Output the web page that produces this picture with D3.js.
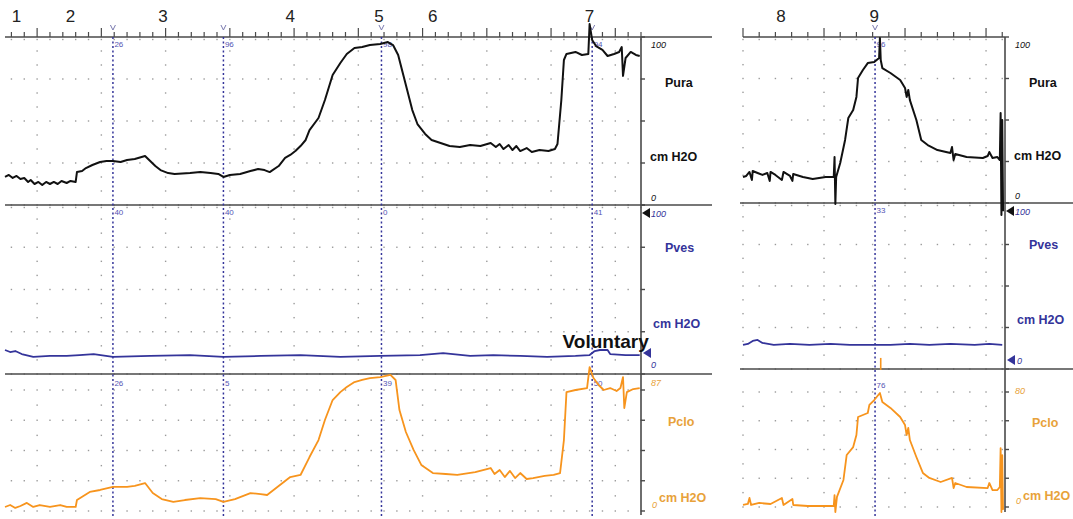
<!DOCTYPE html>
<html>
<head>
<meta charset="utf-8">
<script src="https://cdn.jsdelivr.net/npm/d3@7"></script>
<style>
  html, body { margin: 0; padding: 0; background: #fff; }
  svg { display: block; font-family: Arial, "Liberation Sans", sans-serif; }
</style>
</head>
<body>
<svg id="chart" width="1073" height="519"></svg>
<script>
// Urodynamic trace: Pura / Pves / Pclo, two recording windows

//### DATA ###
//>>> event numbers along the top (time in s)
const eventLabelsLeft = ['1', '2', '3', '4', '5', '6', '7'];
const eventTimesLeft = [-1.6, 2.6, 9.8, 19.7, 26.6, 30.8, 43.0];
const eventLabelsRight = ['8', '9'];
const eventTimesRight = [2.35, 8.1];

//>>> cursor lines (dotted blue) and their read-outs
const markerTimesLeft = [5.9, 14.5, 26.8, 43.2];
const markerTimesRight = [8.15];
const puraReadLeft = ['26', '96', '98', '94'];
const pvesReadLeft = ['40', '40', '0', '41'];
const pcloReadLeft = ['26', '5', '39', '50'];
const puraReadRight = ['96'];
const pvesReadRight = ['33'];
const pcloReadRight = ['76'];

//>>> left window, [time s, cmH2O]
const puraLeft = [
  [-2.5, 16.7], [-2.2, 17.9], [-1.9, 16.1], [-1.6, 17.3], [-1.3, 15.5], [-1.0, 16.1], [-0.7, 13.7],
  [-0.5, 14.9], [-0.2, 12.5], [0.1, 13.7], [0.4, 11.9], [0.7, 13.7], [1.0, 12.5], [1.3, 13.7],
  [1.6, 12.5], [1.9, 14.3], [2.3, 13.1], [2.6, 14.3], [3.0, 13.7], [3.1, 19.6], [3.5, 20.2],
  [3.8, 22.0], [4.3, 23.8], [4.9, 25.6], [5.4, 26.2], [5.9, 26.2], [6.5, 25.6], [7.0, 26.8],
  [7.6, 27.4], [8.4, 29.2], [8.8, 26.2], [9.2, 23.2], [9.6, 20.8], [10.2, 19.0], [10.7, 18.5],
  [11.9, 19.0], [12.7, 19.6], [13.5, 19.0], [14.1, 18.5], [14.5, 16.7], [15.0, 17.9], [15.8, 18.5],
  [16.6, 20.2], [17.2, 21.4], [17.7, 20.8], [18.1, 19.6], [18.8, 23.2], [19.3, 28.0], [19.7, 29.8],
  [20.1, 32.1], [20.5, 35.1], [20.9, 38.7], [21.2, 44.6], [21.9, 51.8], [22.4, 62.5], [23.0, 77.4],
  [23.6, 84.5], [24.1, 89.9], [24.7, 93.5], [25.3, 94.0], [25.9, 95.2], [26.7, 95.8], [27.3, 97.0],
  [27.7, 95.2], [28.1, 89.3], [28.5, 77.4], [28.9, 65.5], [29.2, 56.5], [29.6, 48.2], [30.2, 42.3],
  [30.7, 38.7], [31.4, 36.9], [32.1, 35.1], [32.9, 34.5], [33.7, 35.7], [34.5, 35.1], [35.3, 36.9],
  [35.7, 34.5], [36.0, 36.3], [36.3, 33.3], [36.7, 35.7], [37.0, 32.7], [37.3, 35.1], [37.6, 32.1],
  [38.1, 33.9], [38.5, 31.5], [39.1, 32.7], [39.8, 32.1], [40.3, 33.3], [40.5, 36.3], [40.8, 62.5],
  [41.0, 86.3], [41.2, 89.9], [41.9, 91.1], [42.4, 89.3], [42.9, 89.9], [43.0, 107.7], [43.2, 98.2],
  [43.5, 94.6], [44.0, 92.3], [44.4, 88.7], [44.9, 89.9], [45.3, 91.1], [45.5, 94.0], [45.6, 76.8],
  [45.8, 87.5], [46.2, 91.1], [46.6, 89.3], [46.9, 88.7]
];
const pvesLeft = [
  [-2.5, 14.2], [-2.1, 13.0], [-1.7, 13.6], [-1.2, 11.8], [-0.3, 10.1], [1.0, 10.7], [2.3, 10.7],
  [3.3, 11.2], [4.4, 11.8], [5.9, 10.1], [8.8, 10.7], [11.9, 11.2], [14.5, 10.1], [17.4, 10.7],
  [20.5, 11.2], [23.6, 10.1], [26.7, 10.7], [29.8, 11.2], [31.6, 12.4], [33.7, 10.7], [35.5, 11.2],
  [37.6, 10.7], [39.7, 10.1], [41.9, 10.7], [43.0, 11.2], [43.4, 13.6], [43.8, 14.2], [44.4, 14.2],
  [44.6, 11.8], [45.8, 11.2], [46.9, 11.2]
];
const pcloLeft = [
  [-2.5, 2.9], [-2.1, 4.3], [-1.7, 2.2], [-1.3, 3.6], [-0.8, 5.8], [-0.3, 2.9], [0.2, 4.3], [1.0, 2.9],
  [1.8, 4.3], [2.3, 2.9], [3.0, 2.9], [3.1, 7.9], [3.6, 10.8], [4.1, 13.7], [4.9, 15.1], [5.9, 17.3],
  [7.0, 17.3], [7.6, 18.0], [8.4, 20.1], [9.0, 12.9], [9.7, 8.6], [10.6, 6.5], [11.5, 7.9], [12.7, 9.3],
  [13.9, 8.6], [14.5, 6.5], [15.4, 8.6], [16.6, 12.9], [17.4, 12.2], [17.9, 11.5], [18.7, 17.3],
  [19.7, 24.4], [20.5, 25.9], [21.2, 38.8], [21.9, 51.0], [22.4, 65.4], [23.0, 79.8], [23.6, 85.5],
  [24.1, 89.1], [24.7, 92.7], [25.3, 94.2], [25.9, 95.6], [26.7, 96.3], [27.5, 97.8], [27.9, 94.2],
  [28.2, 72.6], [28.7, 56.8], [29.3, 43.9], [29.9, 33.1], [30.8, 27.3], [31.8, 26.6], [32.7, 25.9],
  [34.1, 28.0], [35.3, 30.9], [35.6, 26.6], [36.0, 29.5], [36.4, 24.4], [36.8, 28.8], [37.2, 23.7],
  [37.6, 27.3], [38.1, 23.0], [38.6, 23.7], [39.5, 25.2], [40.2, 25.9], [40.7, 27.3], [41.0, 51.0],
  [41.2, 85.5], [41.9, 87.0], [42.8, 88.4], [43.0, 103.5], [43.3, 95.6], [43.7, 90.6], [44.1, 87.0],
  [44.6, 88.4], [45.1, 86.3], [45.4, 88.4], [45.6, 96.3], [45.7, 74.0], [45.9, 85.5], [46.4, 87.7],
  [46.9, 88.4]
];

//>>> right window, [time s, cmH2O]
const puraRight = [
  [0.0, 15.7], [0.2, 16.3], [0.4, 18.7], [0.55, 13.9], [0.6, 19.3], [0.9, 18.1], [1.2, 16.9],
  [1.5, 18.1], [1.65, 13.3], [1.7, 18.7], [2.0, 16.9], [2.4, 13.9], [2.5, 18.7], [2.9, 16.3],
  [3.05, 13.3], [3.1, 17.5], [3.7, 15.7], [4.3, 14.5], [5.1, 15.7], [5.6, 15.7], [5.65, 27.7],
  [5.7, -0.6], [5.75, 15.7], [6.0, 24.1], [6.3, 38.0], [6.5, 51.2], [6.8, 56.0], [7.0, 63.9],
  [7.1, 75.3], [7.4, 80.1], [7.7, 84.3], [8.1, 84.9], [8.4, 87.3], [8.45, 99.4], [8.5, 86.1],
  [8.6, 81.3], [9.1, 78.3], [9.7, 74.1], [10.0, 69.3], [10.1, 63.9], [10.2, 68.1], [10.3, 62.0],
  [10.7, 50.0], [11.0, 38.0], [11.4, 34.9], [12.0, 31.9], [12.8, 30.1], [12.9, 33.7], [13.0, 25.9],
  [13.1, 29.5], [13.8, 27.7], [14.8, 27.1], [15.1, 28.3], [15.2, 30.7], [15.4, 27.1], [15.7, 27.7],
  [15.85, 25.9], [15.9, 54.2], [15.95, -7.2], [16.0, 50.0], [16.05, -5.0]
];
const pvesRight = [
  [0.0, 14.5], [0.3, 15.1], [0.6, 16.9], [0.9, 17.5], [1.2, 15.7], [1.9, 14.5], [2.9, 15.1],
  [4.1, 14.5], [5.4, 15.1], [6.6, 14.5], [7.8, 14.5], [9.1, 14.5], [10.3, 15.1], [11.5, 14.5],
  [12.8, 15.1], [14.3, 14.5], [15.2, 15.1], [16.0, 14.5]
];
const pcloRight = [
  [0.0, 1.4], [0.3, 2.1], [0.4, 6.3], [0.5, 1.4], [1.0, 2.8], [1.7, 2.1], [2.4, 6.3], [2.5, 1.4],
  [3.05, 5.6], [3.1, 1.4], [4.0, 0.7], [5.6, 0.7], [5.65, 8.3], [5.7, -3.5], [5.8, 7.0], [6.2, 18.8],
  [6.4, 36.2], [6.8, 41.7], [7.0, 50.1], [7.1, 62.6], [7.7, 65.4], [7.8, 71.0], [8.1, 74.4],
  [8.45, 79.3], [8.6, 73.0], [9.1, 68.9], [9.7, 62.6], [10.0, 57.0], [10.1, 50.1], [10.2, 55.0],
  [10.3, 46.6], [10.7, 34.8], [11.1, 23.7], [11.5, 20.2], [12.2, 17.4], [12.9, 20.2], [13.0, 13.2],
  [13.1, 16.7], [13.8, 13.9], [15.1, 13.2], [15.2, 16.7], [15.4, 11.8], [15.7, 11.8], [15.85, 13.9],
  [15.9, 41.0], [15.95, -3.5], [16.0, 36.0], [16.05, -2.0]
];
const pcloRightSpike = [[8.5, 95.3], [8.5, 103.7]];

//>>> annotation
const noteText = ['Voluntary'];
const noteAt = [[40.9, 15.4]];


//### LAYOUT ###
const svg = d3.select('#chart');
const BLACK = '#111';
const NAVY = '#34349a';
const ORANGE = '#f7941d';
const ORANGE_TXT = '#e8a23a';
const AXIS = '#4a4a4a';
const DOT = '#9a9a9a';

const panels = [
  {
    x0: 5, x1: 641, t: [-2.5, 47], top: 37, lineStart: 5, lineEnd: 712, sepStart: 5, sepEnd: 712,
    bottom: 515,
    events: [eventLabelsLeft, eventTimesLeft],
    markers: markerTimesLeft,
    ch: [
      { key: 'Pura', range: [205, 37], max: 100, color: BLACK, txt: BLACK, data: puraLeft, sub: [1 / 3, 2 / 3], read: puraReadLeft, width: 2 },
      { key: 'Pves', range: [374, 205], max: 100, color: NAVY, txt: NAVY, data: pvesLeft, sub: [1 / 3, 2 / 3], read: pvesReadLeft, width: 1.8 },
      { key: 'Pclo', range: [511, 390], max: 87, color: ORANGE, txt: ORANGE_TXT, data: pcloLeft, sub: [1 / 2], read: pcloReadLeft, width: 1.8 }
    ]
  },
  {
    x0: 743, x1: 1005, t: [0, 16.17], top: 37, lineStart: 743, lineEnd: 1005, sepStart: 740, sepEnd: 1073,
    bottom: 512,
    events: [eventLabelsRight, eventTimesRight],
    markers: markerTimesRight,
    ch: [
      { key: 'Pura', range: [203, 37], max: 100, color: BLACK, txt: BLACK, data: puraRight, sub: [1 / 3, 2 / 3], read: puraReadRight, width: 2 },
      { key: 'Pves', range: [369, 203], max: 100, color: NAVY, txt: NAVY, data: pvesRight, sub: [1 / 3, 2 / 3], read: pvesReadRight, width: 1.8 },
      { key: 'Pclo', range: [507, 392], max: 80, color: ORANGE, txt: ORANGE_TXT, data: pcloRight, sub: [1 / 2], read: pcloReadRight, width: 1.8 }
    ]
  }
];

panels.forEach((p, pi) => {
  const x = d3.scaleLinear().domain(p.t).range([p.x0, p.x1]);
  p.ch.forEach(c => { c.y = d3.scaleLinear().domain([0, c.max]).range(c.range); });
  const g = svg.append('g');

  const minor = d3.range(Math.ceil(p.t[0]), p.t[1] + 1e-6, 1);
  const major = minor.filter(t => t % 5 === 0);

  //_____ dotted grid _____
  const dots = g.append('g').attr('fill', DOT);
  p.ch.forEach(c => {
    const step = c.max / 4;
    const dense = d3.range(0, c.max + 1e-6, step);
    dense.forEach(v => {
      minor.forEach(t => {
        dots.append('rect').attr('x', x(t) - 0.7).attr('y', c.y(v) + (v === c.max && c.key !== 'Pclo' ? 2.5 : 0) - 0.7)
          .attr('width', 1.4).attr('height', 1.4);
      });
    });
    d3.range(0, 4).forEach(k => {
      c.sub.forEach(f => {
        const v = (k + f) * step;
        major.forEach(t => {
          dots.append('rect').attr('x', x(t) - 0.7).attr('y', c.y(v) - 0.7).attr('width', 1.4).attr('height', 1.4);
        });
      });
    });
  });

  //_____ top time axis _____
  g.append('line').attr('x1', p.lineStart).attr('x2', p.lineEnd).attr('y1', p.top).attr('y2', p.top)
    .attr('stroke', AXIS).attr('stroke-width', 1.6);
  g.append('g').selectAll('line').data(minor).join('line')
    .attr('x1', d => x(d)).attr('x2', d => x(d))
    .attr('y1', p.top).attr('y2', d => d % 5 === 0 ? p.top - 9 : p.top - 5)
    .attr('stroke', AXIS).attr('stroke-width', 1.2);

  //_____ channel separators _____
  [p.ch[0].range[0], p.ch[1].range[0]].forEach(yy => {
    g.append('line').attr('x1', p.sepStart).attr('x2', p.sepEnd).attr('y1', yy).attr('y2', yy)
      .attr('stroke', AXIS).attr('stroke-width', 1.4);
  });

  //_____ right value axis _____
  g.append('line').attr('x1', p.x1).attr('x2', p.x1).attr('y1', p.top).attr('y2', p.bottom)
    .attr('stroke', AXIS).attr('stroke-width', 1.6);
  p.ch.forEach(c => {
    g.append('g').selectAll('line').data(d3.range(0, c.max + 1e-6, c.max / 4)).join('line')
      .attr('x1', p.x1).attr('x2', p.x1 + 4).attr('y1', d => c.y(d)).attr('y2', d => c.y(d))
      .attr('stroke', AXIS).attr('stroke-width', 1.4);
  });

  //_____ cursor lines _____
  g.append('g').selectAll('line').data(p.markers).join('line')
    .attr('x1', d => x(d)).attr('x2', d => x(d)).attr('y1', p.top).attr('y2', 518)
    .attr('stroke', NAVY).attr('stroke-width', 1.5).attr('stroke-dasharray', '2,2.5');
  g.append('g').selectAll('path').data(p.markers).join('path')
    .attr('d', d => `M${x(d) - 2.5},${p.top - 12} L${x(d)},${p.top - 7} L${x(d) + 2.5},${p.top - 12}`)
    .attr('fill', 'none').attr('stroke', '#7a7ab0').attr('stroke-width', 1);
  p.ch.forEach((c, ci) => {
    g.append('g').selectAll('text').data(p.markers).join('text')
      .attr('x', d => x(d) + 1.5).attr('y', c.range[1] + (ci === 2 ? -4 : 10))
      .text((d, i) => c.read[i])
      .attr('fill', '#5454b4').style('font-size', '8px');
  });

  //_____ traces _____
  p.ch.forEach(c => {
    g.append('path').datum(c.data)
      .attr('d', d3.line().x(d => x(d[0])).y(d => c.y(d[1])))
      .attr('fill', 'none').attr('stroke', c.color).attr('stroke-width', c.width)
      .attr('stroke-linejoin', 'round');
  });
  if (pi === 1) {
    g.append('path').datum(pcloRightSpike)
      .attr('d', d3.line().x(d => x(d[0])).y(d => p.ch[2].y(d[1])))
      .attr('stroke', ORANGE).attr('stroke-width', 1.6);
  } else {
    g.selectAll('.note').data(noteText).join('text')
      .attr('x', (d, i) => x(noteAt[i][0])).attr('y', (d, i) => p.ch[1].y(noteAt[i][1]))
      .text(d => d).style('font-size', '19px').style('font-weight', 'bold').attr('fill', BLACK);
  }

  //_____ event numbers _____
  g.append('g').selectAll('text').data(p.events[0]).join('text')
    .attr('x', (d, i) => x(p.events[1][i])).attr('y', 22)
    .attr('text-anchor', 'middle').text(d => d)
    .style('font-size', '17px').attr('fill', '#222');

  //_____ channel labels on the right _____
  const lx = p.x1;
  const lab = g.append('g');
  const it = (xx, yy, t, col) => lab.append('text').attr('x', xx).attr('y', yy).text(t)
    .attr('fill', col).style('font-size', '9px').style('font-style', 'italic');
  const bold = (xx, yy, t, col) => lab.append('text').attr('x', xx).attr('y', yy).text(t)
    .attr('fill', col).style('font-size', '12.5px').style('font-weight', 'bold');
  const [pu, pv, pc] = p.ch;

  it(lx + 10, pu.range[1] + 11, '100', BLACK);
  bold(lx + 24, pu.y(pu.max * 0.7), 'Pura', BLACK);
  bold(lx + 9, pu.y(pu.max * 0.26), 'cm H2O', BLACK);
  it(lx + 10, pu.range[0] - 4, '0', BLACK);

  lab.append('path').attr('d', `M${lx + 1},${pv.range[1] + 8} l8,-5 l0,10 Z`).attr('fill', BLACK);
  it(lx + 10, pv.range[1] + 12, '100', NAVY);
  bold(lx + 24, pv.y(pv.max * 0.72), 'Pves', NAVY);
  bold(lx + 12, pv.y(pv.max * 0.27), 'cm H2O', NAVY);
  lab.append('path').attr('d', `M${lx + 2},${pi === 0 ? 353 : 360} l8,-5 l0,10 Z`).attr('fill', NAVY);
  it(lx + (pi === 0 ? 10 : 12), pv.range[0] - (pi === 0 ? 6 : 5), '0', NAVY);

  it(lx + 10, pc.range[1] - 4 + (pi === 1 ? 6 : 0), String(pc.max), ORANGE_TXT);
  bold(lx + 27, pc.y(pc.max * 0.7), 'Pclo', ORANGE_TXT);
  bold(lx + 18, pc.range[0] - 9 + (pi === 1 ? 2 : 0), 'cm H2O', ORANGE_TXT);
  it(lx + 11, pc.range[0] - 3, '0', ORANGE_TXT);
});
</script>
</body>
</html>
